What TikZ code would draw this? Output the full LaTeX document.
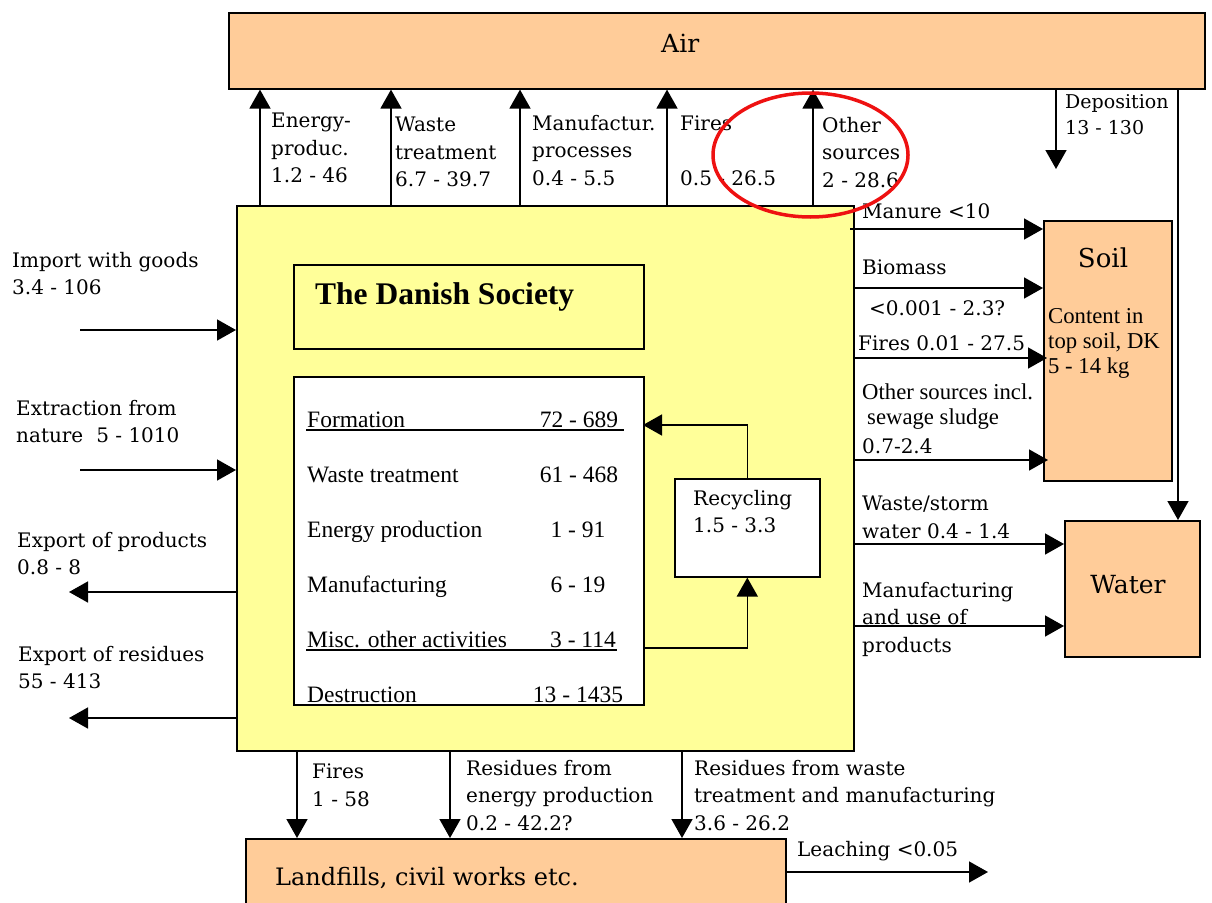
\documentclass[tikz,border=0pt]{standalone}
\usepackage{fontspec}
\setmainfont{DejaVu Serif}
\newfontfamily\tms{Liberation Serif}
\usetikzlibrary{arrows.meta}
\definecolor{peach}{HTML}{FFCC99}
\definecolor{pale}{HTML}{FFFF99}
\definecolor{ring}{HTML}{EE1111}
\begin{document}
\begin{tikzpicture}[x=1pt,y=-1pt,
  box/.style={draw=black,line width=1.6pt,inner sep=0pt,anchor=north west},
  flow/.style={line width=1.6pt,-{Triangle[length=19pt,width=21pt]}},
  lab/.style={inner sep=0pt,anchor=north west,align=left,font=\fontsize{20}{27.5}\selectfont},
  labb/.style={inner sep=0pt,anchor=base west,font=\fontsize{20}{27.5}\selectfont},
  tlab/.style={inner sep=0pt,anchor=base west,font=\tms\fontsize{23.5}{26}\selectfont},
  tnum/.style={inner sep=0pt,anchor=base,font=\tms\fontsize{23.5}{26}\selectfont},
  tsm/.style={inner sep=0pt,anchor=base west,font=\tms\fontsize{22.7}{26}\selectfont},
  big/.style={inner sep=0pt,anchor=base,font=\fontsize{25}{30}\selectfont},
  uline/.style={line width=1.4pt}]
\useasboundingbox (0,0) rectangle (1212,902);
% boxes
\node[box,fill=peach,minimum width=976pt,minimum height=76pt] (air) at (228,12) {};
\node[big,anchor=base west] (airt) at (661,52) {Air};
\node[box,fill=pale,minimum width=617pt,minimum height=545pt] (soc) at (236,205) {};
\node[box,fill=pale,minimum width=350pt,minimum height=84pt] (title) at (293,264) {};
\node[inner sep=0pt,anchor=base west,font=\tms\bfseries\fontsize{31.5}{36}\selectfont] (titlet) at (315,304) {The Danish Society};
\node[box,fill=white,minimum width=350pt,minimum height=328pt] (list) at (293,376) {};
\node[box,fill=white,minimum width=145pt,minimum height=98pt] (rec) at (674,478) {};
\node[lab] (rect) at (693,490) {Recycling\\1.5 - 3.3};
\node[box,fill=peach,minimum width=128pt,minimum height=260pt] (soil) at (1043,220) {};
\node[big,font=\fontsize{26}{30}\selectfont] (soilt) at (1103,267) {Soil};
\node[inner sep=0pt,anchor=north west,align=left,font=\tms\fontsize{22.7}{25}\selectfont] (soilc) at (1048,308) {Content in\\top soil, DK\\5 - 14 kg};
\node[box,fill=peach,minimum width=135pt,minimum height=136pt] (water) at (1064,520) {};
\node[big] (watert) at (1128,593) {Water};
\node[box,fill=peach,minimum width=540pt,minimum height=80pt] (land) at (245,838) {};
\node[big,anchor=base west,font=\fontsize{24}{30}\selectfont] (landt) at (275,885) {Landfills, civil works etc.};
% list contents
\node[tlab] (f1) at (307,427) {Formation};
\node[tnum] (n1) at (579,427) {72 - 689};
\node[tlab] (f2) at (307,482) {Waste treatment};
\node[tnum] (n2) at (579,482) {61 - 468};
\node[tlab] (f3) at (307,537) {Energy production};
\node[tnum] (n3) at (578,537) {1 - 91};
\node[tlab] (f4) at (307,592) {Manufacturing};
\node[tnum] (n4) at (578,592) {6 - 19};
\node[tlab] (f5) at (307,647) {Misc. other activities};
\node[tnum] (n5) at (583,647) {3 - 114};
\node[tlab] (f6) at (307,702) {Destruction};
\node[tnum] (n6) at (578,702) {13 - 1435};
\draw[uline] (306,430) -- (624,430);
\draw[uline] (306,650) -- (617,650);
% recycling loop
\coordinate (fm) at (643,425);
\draw[flow] (rec.north) |- (fm);
\coordinate (ms) at (643,648);
\draw[flow] (ms) -| (rec.south);
% emissions to air
\foreach \x/\n in {260/u1,391/u2,520/u3,667/u4,813/u5}{
  \coordinate (\n) at (\x,205);
  \draw[flow] (\n) -- (\n |- air.south);
}
\node[lab] (a1) at (271,113) {Energy-\\produc.\\1.2 - 46};
\node[lab] (a2) at (395,117) {Waste\\treatment\\6.7 - 39.7};
\node[lab] (a3) at (532,115) {Manufactur.\\processes\\0.4 - 5.5};
\node[labb] (a4) at (680,130) {Fires};
\node[labb] (a4b) at (680,185) {0.5 - 26.5};
\node[lab] (a5) at (822,117) {Other\\sources\\2 - 28.6};
% deposition
\coordinate (dep) at (1056,169);
\draw[flow] (dep |- air.south) -- (dep);
\node[inner sep=0pt,anchor=north west,align=left,font=\fontsize{19}{26}\selectfont] (dept) at (1065,94) {Deposition\\13 - 130};
\coordinate (lng) at (1178,88);
\draw[flow] (lng |- air.south) -- (lng |- water.north);
% to soil
\coordinate (r1) at (850,229);
\draw[flow] (r1) -- (r1 -| soil.west);
\node[labb] (s1) at (862,218) {Manure <10};
\coordinate (r2) at (853,288);
\draw[flow] (r2) -- (r2 -| soil.west);
\node[labb] (s2) at (862,274) {Biomass};
\node[labb] (s2b) at (869,315) {<0.001 - 2.3?};
\coordinate (r3) at (853,358);
\draw[flow] (r3) -- ([xshift=4pt]r3 -| soil.west);
\node[labb] (s3) at (858,350) {Fires 0.01 - 27.5};
\coordinate (r4) at (853,460);
\draw[flow] (r4) -- ([xshift=5pt]r4 -| soil.west);
\node[tsm] (s4) at (862,399) {Other sources incl.};
\node[tsm] (s4b) at (867,424) {sewage sludge};
\node[labb] (s4c) at (862,453) {0.7-2.4};
% to water
\coordinate (w1) at (853,544);
\draw[flow] (w1) -- (w1 -| water.west);
\node[lab] (wt1) at (862,496) {Waste/storm\\water 0.4 - 1.4};
\coordinate (w2) at (853,626);
\draw[flow] (w2) -- (w2 -| water.west);
\node[lab] (wt2) at (862,582) {Manufacturing\\and use of\\products};
% left side
\coordinate (l1) at (80,330);
\draw[flow] (l1) -- (l1 -| soc.west);
\node[lab] (lt1) at (12,252) {Import with goods\\3.4 - 106};
\coordinate (l2) at (80,470);
\draw[flow] (l2) -- (l2 -| soc.west);
\node[lab] (lt2) at (16,400) {Extraction from\\nature\hspace{13pt}5 - 1010};
\coordinate (l3) at (69,592);
\draw[flow] (l3 -| soc.west) -- (l3);
\node[lab] (lt3) at (17,532) {Export of products\\0.8 - 8};
\coordinate (l4) at (69,718);
\draw[flow] (l4 -| soc.west) -- (l4);
\node[lab] (lt4) at (18,646) {Export of residues\\55 - 413};
% to landfills
\foreach \x/\n in {297/d1,450/d2,682/d3}{
  \coordinate (\n) at (\x,750);
  \draw[flow] (\n) -- (\n |- land.north);
}
\node[lab] (bt1) at (312,764) {Fires\\1 - 58};
\node[lab] (bt2) at (466,760) {Residues from\\energy production\\0.2 - 42.2?};
\node[lab] (bt3) at (694,760) {Residues from waste\\treatment and manufacturing\\3.6 - 26.2};
\coordinate (lch) at (988,872);
\draw[flow] (lch -| land.east) -- (lch);
\node[labb] (lcht) at (797,856) {Leaching <0.05};
% highlight
\draw[ring,line width=3.5pt] (810.5,155) ellipse [x radius=97.5pt, y radius=62pt];
\end{tikzpicture}
\end{document}
